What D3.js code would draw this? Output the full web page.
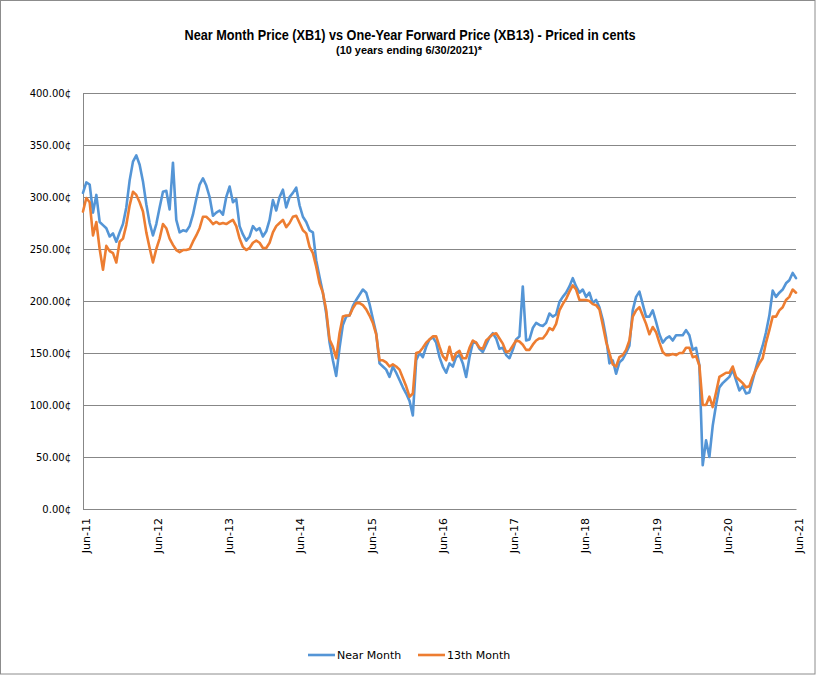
<!DOCTYPE html>
<html>
<head>
<meta charset="utf-8">
<script src="https://cdn.jsdelivr.net/npm/d3@7"></script>
<style>
  html, body { margin: 0; padding: 0; background: #fff; }
  svg { display: block; }
</style>
</head>
<body>
<svg id="chart" width="816" height="675"></svg>
<script>
// ---------- DATA ----------
const titleText = "Near Month Price (XB1) vs One-Year Forward Price (XB13) - Priced in cents";
const subtitleText = "(10 years ending  6/30/2021)*";
const seriesNames = ["Near Month", "13th Month"];
const startDate = "2011-06-30";
const endDate = "2021-06-30";
const xTickLabels = ["Jun-11","Jun-12","Jun-13","Jun-14","Jun-15","Jun-16","Jun-17","Jun-18","Jun-19","Jun-20","Jun-21"];
const yTicks = [0, 50, 100, 150, 200, 250, 300, 350, 400];

// Near Month (XB1), cents, evenly spaced samples over the 10 years
const nearMonth = [
  304,314,312,285,302,276,273,270,262,265,257,266,274,290,316,334,340,331,315,293,
  275,263,274,290,305,306,288,333,278,266,268,267,272,283,298,312,318,311,300,282,
  285,287,283,300,310,295,298,272,264,258,262,272,268,270,262,267,
  278,297,287,300,307,290,300,304,309,292,281,276,268,266,239,223,208,188,160,143,
  128,155,177,185,186,195,201,206,211,208,197,183,169,140,137,134,127,137,131,124,
  117,111,104,90,143,150,146,156,163,165,160,146,137,131,140,
  137,146,148,140,127,146,160,160,154,151,158,165,169,164,154,155,148,145,153,163,
  166,214,162,163,174,179,177,176,179,188,185,187,199,204,208,214,222,214,208,211,
  204,208,198,201,194,182,165,140,143,130,141,144,150,157,
  191,204,209,197,185,185,191,180,168,160,164,166,162,167,167,167,172,167,153,155,
  138,42,66,50,80,100,117,121,124,127,134,124,114,118,111,112,124,136,147,157,
  170,186,210,204,208,211,217,220,227,222
];

// 13th Month (XB13), cents, same sample dates
const month13 = [
  286,299,295,263,276,250,230,253,248,246,237,257,260,273,292,305,302,295,286,266,
  251,237,250,260,274,270,260,254,249,247,249,249,250,257,263,270,281,281,278,274,
  276,274,275,274,276,278,272,260,252,249,251,256,258,256,251,251,
  256,266,272,275,278,271,275,281,282,275,268,265,252,246,233,217,208,191,163,156,
  145,169,185,186,186,193,198,198,196,192,186,179,168,143,143,141,137,139,137,134,
  126,118,108,111,150,151,155,160,163,166,166,156,147,143,156,
  143,150,152,145,145,155,162,160,155,154,162,165,168,169,164,159,151,152,157,162,
  161,158,153,153,158,162,164,164,168,174,172,178,191,197,202,209,215,211,201,201,
  201,200,197,196,192,177,161,150,139,137,146,148,153,162,
  185,191,194,186,178,168,175,170,160,151,148,148,149,148,150,150,155,155,146,147,
  138,100,100,108,98,112,127,129,131,131,137,127,124,121,117,118,127,134,140,145,
  160,172,185,185,191,194,201,204,211,208
];

// ---------- LAYOUT ----------
const svg = d3.select("#chart");
const W = 816, H = 675;
const plot = { left: 83, right: 796, top: 93, bottom: 509 };
const colors = ["#5495D6", "#ED7D31"];
const gridColor = "#878787";

const t0 = new Date(startDate + "T00:00:00"), t1 = new Date(endDate + "T00:00:00");
const n = nearMonth.length;
const dates = d3.range(n).map(i => new Date(+t0 + i * (t1 - t0) / (n - 1)));

const x = d3.scaleTime().domain([t0, t1]).range([plot.left, plot.right]);
const y = d3.scaleLinear().domain([0, 400]).range([plot.bottom, plot.top]);

// outer border
svg.append("rect").attr("x", 0.5).attr("y", 0.5).attr("width", W - 1.5).attr("height", H - 1.5)
  .attr("fill", "#fff").attr("stroke", "#8c8c8c").attr("stroke-width", 1);

// title
svg.append("text").attr("x", 410).attr("y", 40).attr("text-anchor", "middle")
  .attr("font-family", "Liberation Sans Narrow, Liberation Sans, Arial, sans-serif").attr("font-weight", "bold")
  .attr("font-size", 14).attr("textLength", 451).attr("lengthAdjust", "spacingAndGlyphs")
  .attr("fill", "#000").text(titleText);
svg.append("text").attr("x", 409).attr("y", 54).attr("text-anchor", "middle")
  .attr("font-family", "Liberation Sans Narrow, Liberation Sans, Arial, sans-serif").attr("font-weight", "bold")
  .attr("font-size", 10.5).attr("textLength", 146).attr("lengthAdjust", "spacingAndGlyphs")
  .attr("fill", "#000").text(subtitleText);

// y axis with gridlines
const yAxis = d3.axisLeft(y).tickValues(yTicks)
  .tickSize(-(plot.right - plot.left)).tickPadding(12)
  .tickFormat(d => d3.format(".2f")(d) + "\u00a2");
const gy = svg.append("g").attr("transform", `translate(${plot.left},0)`).call(yAxis);
gy.select(".domain").attr("stroke", gridColor);
gy.selectAll(".tick line").attr("stroke", gridColor).attr("stroke-width", 1);
gy.selectAll(".tick text").attr("font-family", "DejaVu Sans, Verdana, sans-serif")
  .attr("font-size", 10).attr("fill", "#000");

// x axis
const xTickDates = xTickLabels.map((_, i) => d3.timeYear.offset(t0, i));
const xAxis = d3.axisBottom(x).tickValues(xTickDates).tickSize(0)
  .tickFormat((d, i) => xTickLabels[i]);
const gx = svg.append("g").attr("transform", `translate(0,${plot.bottom})`).call(xAxis);
gx.select(".domain").attr("stroke", gridColor);
gx.selectAll(".tick text")
  .attr("font-family", "DejaVu Sans, Verdana, sans-serif").attr("font-size", 11).attr("fill", "#000")
  .attr("text-anchor", "end")
  .attr("x", -9).attr("y", 0).attr("dy", "0.35em").attr("dx", 0)
  .attr("transform", "translate(3,0) rotate(-90)");

// lines
const line = d3.line().x((d, i) => x(dates[i])).y(d => y(d));
[nearMonth, month13].forEach((s, k) => {
  svg.append("path").datum(s).attr("d", line).attr("fill", "none")
    .attr("stroke", colors[k]).attr("stroke-width", 2.6)
    .attr("stroke-linejoin", "round").attr("stroke-linecap", "round");
});

// legend
const legendItems = [{ x: 308 }, { x: 418 }];
legendItems.forEach((it, k) => {
  svg.append("line").attr("x1", it.x).attr("x2", it.x + 27).attr("y1", 655).attr("y2", 655)
    .attr("stroke", colors[k]).attr("stroke-width", 2.6);
  svg.append("text").attr("x", it.x + 29).attr("y", 659)
    .attr("font-family", "DejaVu Sans, Verdana, sans-serif").attr("font-size", 11)
    .attr("fill", "#000").text(seriesNames[k]);
});
</script>
</body>
</html>
